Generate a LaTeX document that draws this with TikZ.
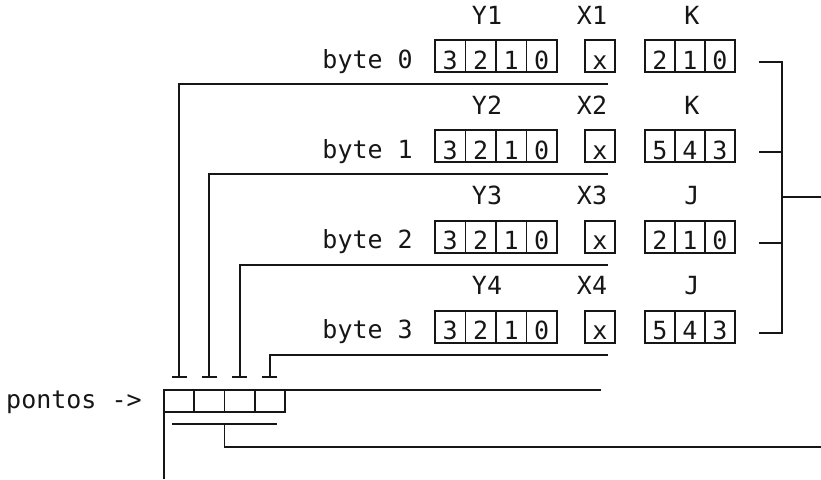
\documentclass[tikz,border=0pt]{standalone}
\usepackage{fontspec}
\setmonofont{DejaVu Sans Mono}
\usetikzlibrary{arrows.meta,positioning,calc}
\usepackage{xcolor}
\definecolor{Ink}{RGB}{22,22,22}
\newcommand{\asc}{\fontsize{25}{25}\selectfont\ttfamily}
\tikzset{
  bit/.style={rectangle,draw=Ink,line width=1.8pt,minimum width=30.5pt,
              minimum height=32pt,inner sep=0pt,outer sep=0pt,
              text height=26pt,text depth=0pt,font=\asc,text=Ink},
  kbit/.style={bit,minimum width=30pt},
  pcell/.style={bit,minimum width=30.25pt,minimum height=22pt,text height=0pt},
  lbl/.style={inner sep=0pt,font=\asc,text=Ink},
  wire/.style={draw=Ink,line width=1.8pt},
  ptr/.style={wire,-{Bar[width=15pt,line width=1.8pt]},shorten >=12pt},
}

\begin{document}
\begin{tikzpicture}[x=1pt,y=-1pt]
  \useasboundingbox (0,0) rectangle (821,479);
  % pontos array
  \node[lbl,anchor=base west] (pontos) at (6,408) {pontos ->};
  \node[pcell,anchor=north west] (pt1) at (164,390) {};
  \node[pcell,right=0pt of pt1] (pt2) {};
  \node[pcell,right=0pt of pt2] (pt3) {};
  \node[pcell,right=0pt of pt3] (pt4) {};
  % bytes
  \foreach \r/\idx/\kn/\ka/\kb/\kc in {0/1/K/2/1/0,1/2/K/5/4/3,2/3/J/2/1/0,3/4/J/5/4/3}{
    \pgfmathsetmacro\rowtop{40+90.3*\r}
    \node[lbl,anchor=base east] (b\r) at (413,\rowtop+28) {byte \r};
    \node[bit,anchor=north west] (y\r-1) at (435,\rowtop) {3};
    \node[bit,right=0pt of y\r-1] (y\r-2) {2};
    \node[bit,right=0pt of y\r-2] (y\r-3) {1};
    \node[bit,right=0pt of y\r-3] (y\r-4) {0};
    \node[kbit,anchor=north west] (x\r) at (585,\rowtop) {x};
    \node[kbit,anchor=north west] (k\r-1) at (645,\rowtop) {\ka};
    \node[kbit,right=0pt of k\r-1] (k\r-2) {\kb};
    \node[kbit,right=0pt of k\r-2] (k\r-3) {\kc};
    \node[lbl,anchor=base] (hy\r) at (487,\rowtop-16) {Y\idx};
    \node[lbl,anchor=base] (hx\r) at (592,\rowtop-16) {X\idx};
    \node[lbl,anchor=base] (hk\r) at (692,\rowtop-16) {\kn};
    \coordinate (p\r) at (608,\rowtop+44);
    \coordinate (ko\r) at ($(k\r-3.east)+(24,6)$);
  }
  % pointers into pontos
  \foreach \r/\cel in {0/1,1/2,2/3,3/4}
    \draw[ptr] (p\r) -| (pt\cel.north);
  % K/J bus
  \coordinate (bus) at (782,197);
  \coordinate (out) at (821,197);
  \draw[wire] (ko0) -| (bus |- ko3) -- (ko3);
  \draw[wire] (ko1) -- (ko1 -| bus);
  \draw[wire] (ko2) -- (ko2 -| bus);
  \draw[wire] (bus) -- (out);
  % pontos frame
  \coordinate (ptend) at (601,390);
  \coordinate (pfoot) at (164,479);
  \draw[wire,line width=2.6pt] (pt1.north west) -- (ptend);
  \draw[wire] (pt1.north west) -- (pfoot);
  \coordinate (ua) at (172,424);
  \coordinate (ub) at (277,424);
  \coordinate (pout) at (821,447);
  \draw[wire] (ua) -- (ub);
  \draw[wire] (pt2.south east |- ua) |- (pout);
\end{tikzpicture}
\end{document}
